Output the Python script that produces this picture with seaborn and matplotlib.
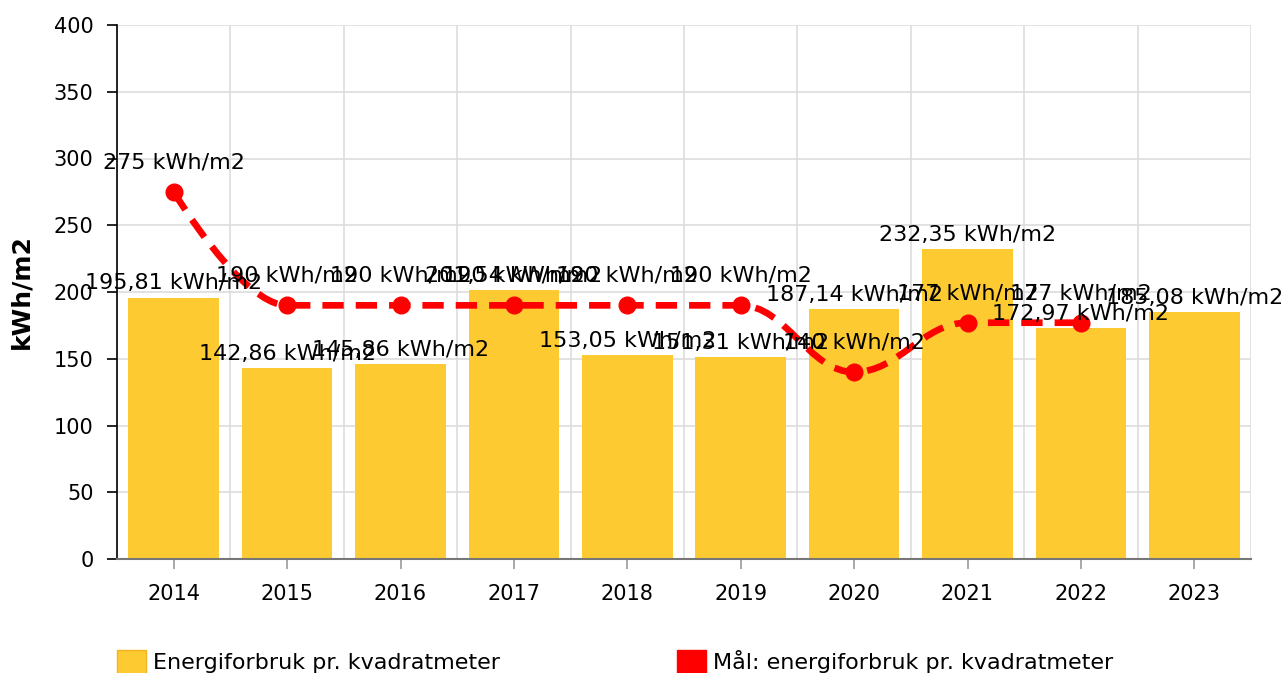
import numpy as np
import pandas as pd
import matplotlib
matplotlib.use('Agg')
import matplotlib.pyplot as plt
from matplotlib.path import Path
from matplotlib.patches import PathPatch, Patch
import seaborn as sns

# chart data
years = ['2014', '2015', '2016', '2017', '2018', '2019', '2020', '2021', '2022', '2023']
energy = [195.81, 142.86, 145.86, 201.54, 153.05, 151.31, 187.14, 232.35, 172.97, 185.08]
goal = [275, 190, 190, 190, 190, 190, 140, 177, 177]

bar_name = 'Energiforbruk pr. kvadratmeter'
goal_name = 'Mål: energiforbruk pr. kvadratmeter'
bar_color = '#FDCA31'
goal_color = '#FF0000'


def spline_path(xs, ys, smoothing=1.5):
    # bezier control points, same idea as a highcharts "spline" series
    n = len(xs)
    denom = smoothing + 1
    left = [(x, y) for x, y in zip(xs, ys)]
    right = [(x, y) for x, y in zip(xs, ys)]
    for i in range(1, n - 1):
        px, py = xs[i], ys[i]
        lx, ly = xs[i - 1], ys[i - 1]
        nx, ny = xs[i + 1], ys[i + 1]
        lcx = (smoothing * px + lx) / denom
        lcy = (smoothing * py + ly) / denom
        rcx = (smoothing * px + nx) / denom
        rcy = (smoothing * py + ny) / denom
        if rcx != lcx:
            corr = (rcy - lcy) * (rcx - px) / (rcx - lcx) + py - rcy
            lcy += corr
            rcy += corr
        if lcy > ly and lcy > py:
            lcy = max(ly, py)
            rcy = 2 * py - lcy
        elif lcy < ly and lcy < py:
            lcy = min(ly, py)
            rcy = 2 * py - lcy
        if rcy > ny and rcy > py:
            rcy = max(ny, py)
            lcy = 2 * py - rcy
        elif rcy < ny and rcy < py:
            rcy = min(ny, py)
            lcy = 2 * py - rcy
        left[i] = (lcx, lcy)
        right[i] = (rcx, rcy)
    verts = [(xs[0], ys[0])]
    codes = [Path.MOVETO]
    for i in range(1, n):
        verts += [right[i - 1], left[i], (xs[i], ys[i])]
        codes += [Path.CURVE4] * 3
    return Path(verts, codes)


def fmt(v):
    if float(v).is_integer():
        return f'{int(v)} kWh/m2'
    return f'{v:.2f}'.replace('.', ',') + ' kWh/m2'


sns.set_style('white')
plt.rcParams['font.family'] = ['DejaVu Sans']
plt.rcParams['text.color'] = 'black'
plt.rcParams['axes.labelcolor'] = 'black'
plt.rcParams['xtick.labelcolor'] = 'black'
plt.rcParams['ytick.labelcolor'] = 'black'

df = pd.DataFrame({'year': years, 'energy': energy})

fig = plt.figure(figsize=(12.84, 6.73), dpi=100)
ax = fig.add_axes([117 / 1284, 114 / 673, 1134 / 1284, 534 / 673])

sns.barplot(data=df, x='year', y='energy', color=bar_color, saturation=1,
            width=0.8, linewidth=0, ax=ax, zorder=2)

gx = np.arange(len(goal))
path = spline_path(list(gx.astype(float)), [float(g) for g in goal])
line = PathPatch(path, fill=False, edgecolor=goal_color, linewidth=4.8,
                 linestyle=(0, (3.2, 1.8)), capstyle='butt', zorder=3)
ax.add_patch(line)
ax.plot(gx, goal, linestyle='none', marker='o', markersize=12,
        color=goal_color, zorder=4)

# value labels
for i, v in enumerate(energy):
    ax.annotate(fmt(v), (i, v), xytext=(0, 3), textcoords='offset points',
                ha='center', va='bottom', fontsize=16, color='black', zorder=6)
for i, v in enumerate(goal):
    ax.annotate(fmt(v), (i, v), xytext=(0, 14), textcoords='offset points',
                ha='center', va='bottom', fontsize=16, color='black', zorder=6)

ax.set_xlim(-0.5, len(years) - 0.5)
ax.set_ylim(0, 400)
ax.set_yticks(range(0, 401, 50))
ax.set_xticks(np.arange(-0.5, len(years), 1), minor=True)
ax.set_axisbelow(True)
ax.grid(axis='y', which='major', color='#dddddd', linewidth=1.2)
ax.grid(axis='x', which='minor', color='#dddddd', linewidth=1.2)

for s in ['top', 'right']:
    ax.spines[s].set_visible(False)
ax.spines['left'].set_color('black')
ax.spines['left'].set_linewidth(1.2)
ax.spines['bottom'].set_color('#777777')
ax.spines['bottom'].set_linewidth(1.5)

ax.tick_params(axis='y', which='major', left=True, length=7, width=1.2,
               color='black', pad=10, labelsize=15)
ax.tick_params(axis='x', which='major', bottom=True, length=7, width=1.2,
               color='#999999', pad=11, labelsize=15)
ax.tick_params(axis='x', which='minor', length=0)

ax.set_xlabel('')
ax.set_ylabel('kWh/m2', fontsize=18, fontweight='bold')
ax.yaxis.set_label_coords(-0.074, 0.5)

h1 = Patch(facecolor=bar_color, edgecolor='#F2B420', linewidth=1)
h2 = Patch(facecolor=goal_color, edgecolor=goal_color, linewidth=1)
legend_kw = dict(loc='center left', frameon=False, fontsize=16, borderpad=0,
                 borderaxespad=0, handlelength=1.3, handleheight=1.3,
                 handletextpad=0.3)
fig.legend([h1], [bar_name], bbox_to_anchor=(117 / 1284, 11 / 673), **legend_kw)
fig.legend([h2], [goal_name], bbox_to_anchor=(677 / 1284, 11 / 673), **legend_kw)

fig.savefig('out.png', dpi=100)
